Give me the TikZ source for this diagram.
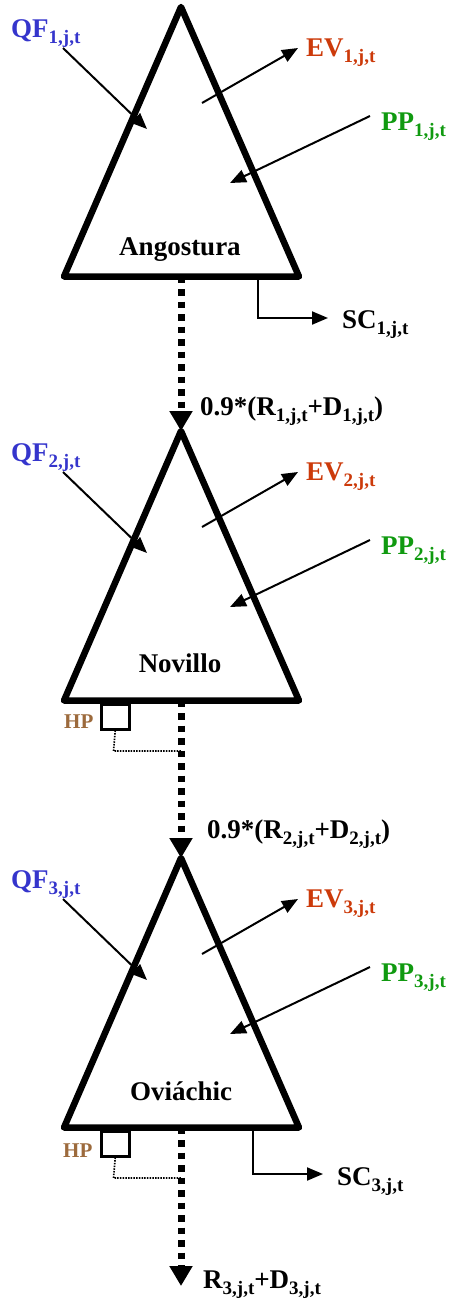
\documentclass[tikz,border=0pt]{standalone}
\usepackage{fontspec}
\setmainfont{Liberation Serif}
\usetikzlibrary{arrows.meta}
\definecolor{qfblue}{HTML}{3535CC}
\definecolor{evred}{HTML}{CC3A0A}
\definecolor{ppgreen}{HTML}{109A10}
\definecolor{hpbrown}{HTML}{9C6A3C}
\newcommand\vsub[2]{#1\raisebox{-6.5pt}{\fontsize{19}{19}\selectfont #2}}
\tikzset{
  lbl/.style={anchor=base west, inner sep=0pt, font=\fontsize{27}{27}\selectfont\bfseries},
  resname/.style={anchor=base, inner sep=0pt, font=\fontsize{27}{27}\selectfont\bfseries},
  reservoir/.style={line width=6.5pt, line join=round},
  flow/.style={line width=2pt, -{Triangle[length=16pt,width=13pt]}},
  release/.style={line width=7pt, dash pattern=on 6.5pt off 6pt, -{Triangle[length=20pt,width=22pt]}},
  hpbox/.style={line width=2.5pt, draw},
  hpline/.style={line width=1.6pt, dash pattern=on 1.5pt off 1.2pt},
}
\begin{document}
\begin{tikzpicture}[x=1pt,y=-1pt]
\useasboundingbox (0,0) rectangle (450,1299);
\foreach \i/\dy in {1/0,2/424,3/851}{
  \begin{scope}[yshift=-\dy pt]
    \coordinate (top\i) at (181,7);
    \coordinate (bl\i) at (64,276.5);
    \coordinate (br\i) at (299,276.5);
    \coordinate (bm\i) at (181,276.5);
    \draw[reservoir] (top\i) -- (br\i) -- (bl\i) -- cycle;
    \node[lbl, text=qfblue] (qf\i) at (11,37) {\vsub{QF}{\i,j,t}};
    \node[lbl, text=evred] (ev\i) at (306,56) {\vsub{EV}{\i,j,t}};
    \node[lbl, text=ppgreen] (pp\i) at (381,130) {\vsub{PP}{\i,j,t}};
    \coordinate (qfs\i) at (63,48);
    \coordinate (qfe\i) at (147,129);
    \coordinate (evs\i) at (202,103);
    \coordinate (eve\i) at (298,48);
    \coordinate (pps\i) at (370,116);
    \coordinate (ppe\i) at (230,183);
    \draw[flow] (qfs\i) -- (qfe\i);
    \draw[flow] (evs\i) -- (eve\i);
    \draw[flow] (pps\i) -- (ppe\i);
  \end{scope}
}
\node[resname] (n1) at (180,255) {Angostura};
\node[resname] (n2) at (180,672) {Novillo};
\node[resname] (n3) at (181,1100) {Oviáchic};
% spills
\coordinate (sc1a) at (258,279);
\coordinate (sc1b) at (258,318);
\coordinate (sc1c) at (328,318);
\draw[flow] (sc1a) -- (sc1b) -- (sc1c);
\node[lbl] (sc1) at (342,328) {\vsub{SC}{1,j,t}};
\coordinate (sc3a) at (253,1130);
\coordinate (sc3b) at (253,1174);
\coordinate (sc3c) at (323,1174);
\draw[flow] (sc3a) -- (sc3b) -- (sc3c);
\node[lbl] (sc3) at (337,1185) {\vsub{SC}{3,j,t}};
% releases
\draw[release] (bm1) -- (top2);
\draw[release] (bm2) -- (top3);
\coordinate (out3) at (181,1286);
\draw[release] (bm3) -- (out3);
\node[lbl] (r1) at (200,415) {0.9*(\vsub{R}{1,j,t}+\vsub{D}{1,j,t})};
\node[lbl] (r2) at (207,838) {0.9*(\vsub{R}{2,j,t}+\vsub{D}{2,j,t})};
\node[lbl] (r3) at (203,1288) {\vsub{R}{3,j,t}+\vsub{D}{3,j,t}};
% hydropower
\node[hpbox, minimum width=28pt, minimum height=25pt, inner sep=0pt, anchor=north west] (hpb2) at (100,703) {};
\node[lbl, text=hpbrown, font=\fontsize{21}{21}\selectfont\bfseries] (hp2) at (64,728) {HP};
\coordinate (hpc2) at (113.5,751);
\coordinate (hpj2) at (181,751);
\draw[hpline] (hpb2.south) -- (hpc2) -- (hpj2);
\node[hpbox, minimum width=28pt, minimum height=25pt, inner sep=0pt, anchor=north west] (hpb3) at (100,1130) {};
\node[lbl, text=hpbrown, font=\fontsize{21}{21}\selectfont\bfseries] (hp3) at (63,1157) {HP};
\coordinate (hpc3) at (113.5,1178);
\coordinate (hpj3) at (181,1178);
\draw[hpline] (hpb3.south) -- (hpc3) -- (hpj3);
\end{tikzpicture}
\end{document}
